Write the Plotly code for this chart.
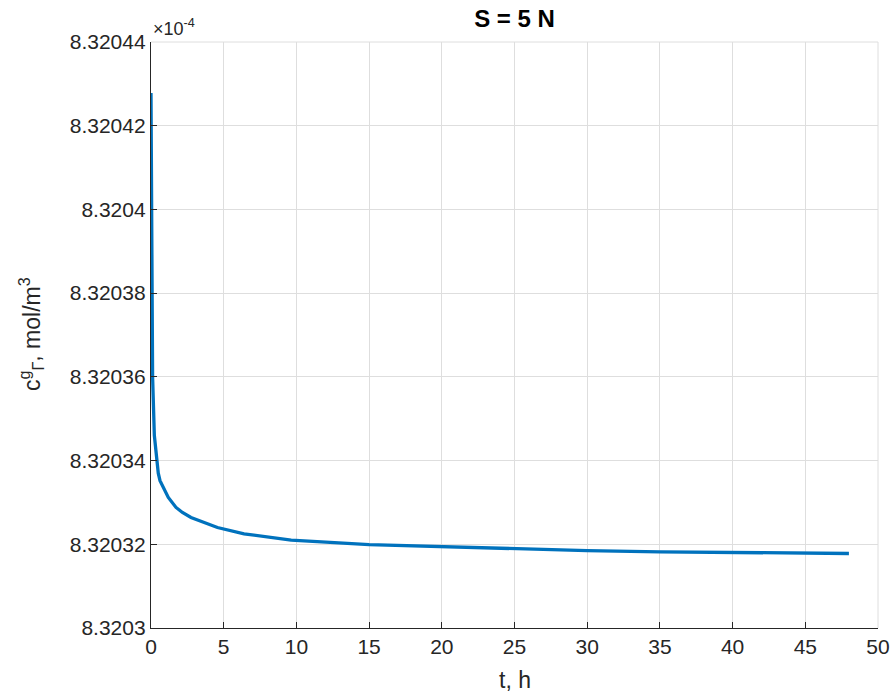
import plotly.graph_objects as go

# time, h
t = [0, 0.03, 0.07, 0.11, 0.23, 0.39, 0.5, 0.62, 0.73, 0.92, 1.19, 1.72, 2.16,
     2.75, 3.67, 4.57, 6.4, 9.64, 15, 20, 25, 30, 35, 40, 45, 48]
# concentration, mol/m^3
c = [8.3204278e-4, 8.320400e-4, 8.320383e-4, 8.320360e-4, 8.320346e-4,
     8.320340e-4, 8.320337e-4, 8.3203352e-4, 8.3203344e-4, 8.3203328e-4,
     8.3203312e-4, 8.3203288e-4, 8.3203276e-4, 8.3203264e-4, 8.3203252e-4,
     8.3203240e-4, 8.3203225e-4, 8.3203210e-4, 8.3203199e-4, 8.3203194e-4,
     8.3203190e-4, 8.3203185e-4, 8.3203182e-4, 8.3203180e-4, 8.3203178e-4,
     8.3203178e-4]

scale = 1e-4
y_ticks = [8.3203, 8.32032, 8.32034, 8.32036, 8.32038, 8.3204, 8.32042, 8.32044]
y_tick_text = ["8.3203", "8.32032", "8.32034", "8.32036", "8.32038", "8.3204", "8.32042", "8.32044"]
x_ticks = [0, 5, 10, 15, 20, 25, 30, 35, 40, 45, 50]

ax_col = "#262626"
grid_col = "#dedede"
font_fam = "Liberation Sans, Arial, Helvetica, sans-serif"

L, R, T, B = 151, 878, 42, 628
W, H = 891, 694

fig = go.Figure()
fig.add_trace(go.Scatter(
    x=t, y=[v / scale for v in c], mode="lines",
    line=dict(color="#0072BD", width=3.3), showlegend=False,
))

fig.update_layout(
    width=W, height=H,
    margin=dict(l=L, r=W - R, t=T, b=H - B),
    paper_bgcolor="white", plot_bgcolor="white",
    font=dict(family=font_fam, size=21, color=ax_col),
    title=dict(text="<b>S = 5 N</b>", x=(L + R) / 2 / W, xanchor="center",
               y=1 - 19 / H, yanchor="middle",
               font=dict(size=24, color="black", family=font_fam)),
    xaxis=dict(
        range=[0, 50], tickvals=x_ticks, ticks="inside", ticklen=6,
        tickcolor=ax_col, showline=True, linecolor=ax_col, linewidth=1.3,
        showgrid=True, gridcolor=grid_col, gridwidth=1, zeroline=False,
        tickfont=dict(size=21, color=ax_col), automargin=False,
    ),
    yaxis=dict(
        range=[8.3203, 8.32044], tickvals=y_ticks, ticktext=y_tick_text,
        ticks="inside", ticklen=6, tickcolor=ax_col, showline=True,
        linecolor=ax_col, linewidth=1.3, showgrid=True, gridcolor=grid_col,
        gridwidth=1, zeroline=False, tickfont=dict(size=21, color=ax_col),
        automargin=False,
    ),
)

# edge grid lines (top and right)
fig.add_shape(type="line", xref="paper", yref="paper", x0=0, x1=1, y0=1, y1=1,
              line=dict(color=grid_col, width=1), layer="below")
fig.add_shape(type="line", xref="paper", yref="paper", x0=1, x1=1, y0=0, y1=1,
              line=dict(color=grid_col, width=1), layer="below")

# axis titles
fig.add_annotation(text="t, h", xref="paper", yref="paper",
                   x=0.5, y=-(680 - B) / (B - T), xanchor="center", yanchor="middle",
                   showarrow=False, font=dict(size=23, color=ax_col, family=font_fam))
fig.add_annotation(text="c<sup>g</sup><sub>Γ</sub>, mol/m<sup>3</sup>", xref="paper", yref="paper",
                   x=-(L - 31) / (R - L), y=0.5 + (335 - 334) / (B - T),
                   xanchor="center", yanchor="middle", textangle=-90,
                   showarrow=False, font=dict(size=23, color=ax_col, family=font_fam))

fig.add_annotation(text="×10<sup>-4</sup>", xref="paper", yref="paper",
                   x=0, y=1, xanchor="left", yanchor="bottom", showarrow=False,
                   font=dict(size=18, color=ax_col, family=font_fam), yshift=1)

fig.write_html("out.html")
